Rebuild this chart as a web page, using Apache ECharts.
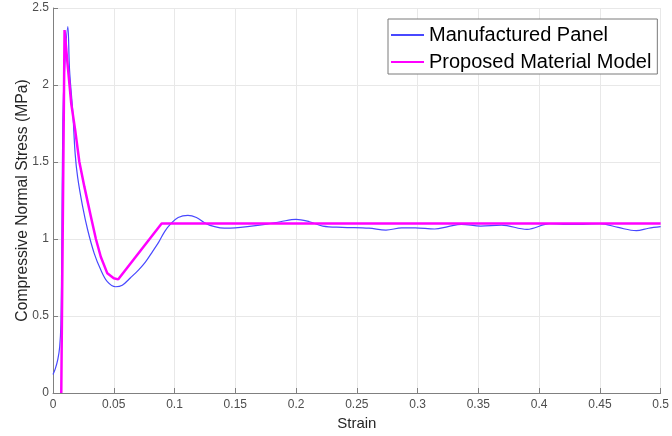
<!DOCTYPE html>
<html>
<head>
<meta charset="utf-8">
<script src="https://cdn.jsdelivr.net/npm/echarts@6/dist/echarts.min.js"></script>
<style>
html,body{margin:0;padding:0;background:#fff;}
#chart{width:672px;height:436px;}
</style>
</head>
<body>
<div id="chart"></div>
<script>
// Manufactured Panel (strain, stress)
const panelStrain = [0, 0.002, 0.004, 0.0055, 0.0065, 0.0072, 0.0081, 0.0095, 0.0122, 0.0136, 0.0163, 0.0182, 0.0203, 0.0244, 0.0285, 0.0339, 0.0393, 0.0447, 0.0515, 0.057, 0.064, 0.0705, 0.076, 0.082, 0.087, 0.092, 0.097, 0.103, 0.111, 0.118, 0.126, 0.133, 0.141, 0.150, 0.160, 0.176, 0.187, 0.200, 0.211, 0.222, 0.238, 0.260, 0.274, 0.287, 0.298, 0.314, 0.325, 0.336, 0.352, 0.369, 0.390, 0.409, 0.420, 0.436, 0.450, 0.465, 0.480, 0.490, 0.500];
const panelStress = [0.12, 0.16, 0.22, 0.30, 0.45, 0.90, 1.77, 2.10, 2.38, 2.10, 1.82, 1.556, 1.40, 1.21, 1.06, 0.907, 0.80, 0.723, 0.69, 0.70, 0.75, 0.80, 0.85, 0.92, 0.98, 1.05, 1.10, 1.14, 1.154, 1.14, 1.10, 1.08, 1.07, 1.072, 1.08, 1.097, 1.112, 1.128, 1.112, 1.084, 1.076, 1.07, 1.058, 1.072, 1.072, 1.065, 1.08, 1.095, 1.084, 1.09, 1.063, 1.10, 1.095, 1.095, 1.10, 1.075, 1.054, 1.07, 1.08];
// Proposed Material Model (strain, stress)
const modelStrain = [0.0068, 0.0095, 0.0117, 0.015, 0.0182, 0.0217, 0.0258, 0.0312, 0.0353, 0.0393, 0.0447, 0.050, 0.0537, 0.0894, 0.5];
const modelStress = [0, 2.357, 2.16, 1.88, 1.71, 1.50, 1.34, 1.145, 1.00, 0.885, 0.777, 0.745, 0.738, 1.10, 1.10];
const seriesNames = ['Manufactured Panel', 'Proposed Material Model'];
const xTicks = {min: 0, max: 0.5, step: 0.05};
const yTicks = {min: 0, max: 2.5, step: 0.5};

const zip = (a, b) => a.map((v, i) => [v, b[i]]);
const chart = echarts.init(document.getElementById('chart'), null, {renderer: 'canvas'});
const axisColor = '#808080';
const labelColor = '#4d4d4d';
chart.setOption({
  animation: false,
  backgroundColor: '#ffffff',
  grid: {left: 53, right: 4, top: 8, bottom: 43, containLabel: false},
  xAxis: {
    type: 'value', min: xTicks.min, max: xTicks.max, interval: xTicks.step,
    name: 'Strain', nameLocation: 'middle', nameGap: 23, nameMoveOverlap: false,
    nameTextStyle: {fontFamily: 'Liberation Sans', fontSize: 15, color: '#262626'},
    axisLine: {show: true, onZero: false, lineStyle: {color: axisColor, width: 1}},
    axisTick: {show: true, inside: true, length: 5, lineStyle: {color: axisColor}},
    axisLabel: {fontFamily: 'Liberation Sans', fontSize: 12, color: labelColor, margin: 6,
      formatter: v => String(+v.toFixed(2))},
    splitLine: {show: true, lineStyle: {color: '#e8e8e8', width: 1}}
  },
  yAxis: {
    type: 'value', min: yTicks.min, max: yTicks.max, interval: yTicks.step,
    name: 'Compressive Normal Stress (MPa)', nameLocation: 'middle', nameGap: 22, nameMoveOverlap: false,
    nameTextStyle: {fontFamily: 'Liberation Sans', fontSize: 15.7, color: '#262626'},
    axisLine: {show: true, onZero: false, lineStyle: {color: axisColor, width: 1}},
    axisTick: {show: true, inside: true, length: 5, lineStyle: {color: axisColor}},
    axisLabel: {fontFamily: 'Liberation Sans', fontSize: 12, color: labelColor, margin: 4,
      formatter: v => String(+v.toFixed(1))},
    splitLine: {show: true, lineStyle: {color: '#e8e8e8', width: 1}}
  },
  legend: {
    orient: 'vertical', left: 388, top: 19,
    backgroundColor: '#ffffff', borderColor: '#7a7a7a', borderWidth: 1,
    padding: [5, 6, 1, 2], itemGap: 5, itemWidth: 33, itemHeight: 14,
    itemStyle: {opacity: 0},
    textStyle: {fontFamily: 'Liberation Sans', fontSize: 20, color: '#000', lineHeight: 22},
    data: seriesNames
  },
  series: [
    {
      name: seriesNames[0], type: 'line', data: zip(panelStrain, panelStress),
      symbol: 'none', smooth: 0.35,
      lineStyle: {color: '#4848ff', width: 1.2},
      itemStyle: {color: '#0000ff'}, z: 2
    },
    {
      name: seriesNames[1], type: 'line', data: zip(modelStrain, modelStress),
      symbol: 'none', smooth: false,
      lineStyle: {color: '#ff00ff', width: 2.5},
      itemStyle: {color: '#ff00ff'}, z: 3
    }
  ]
});
</script>
</body>
</html>
